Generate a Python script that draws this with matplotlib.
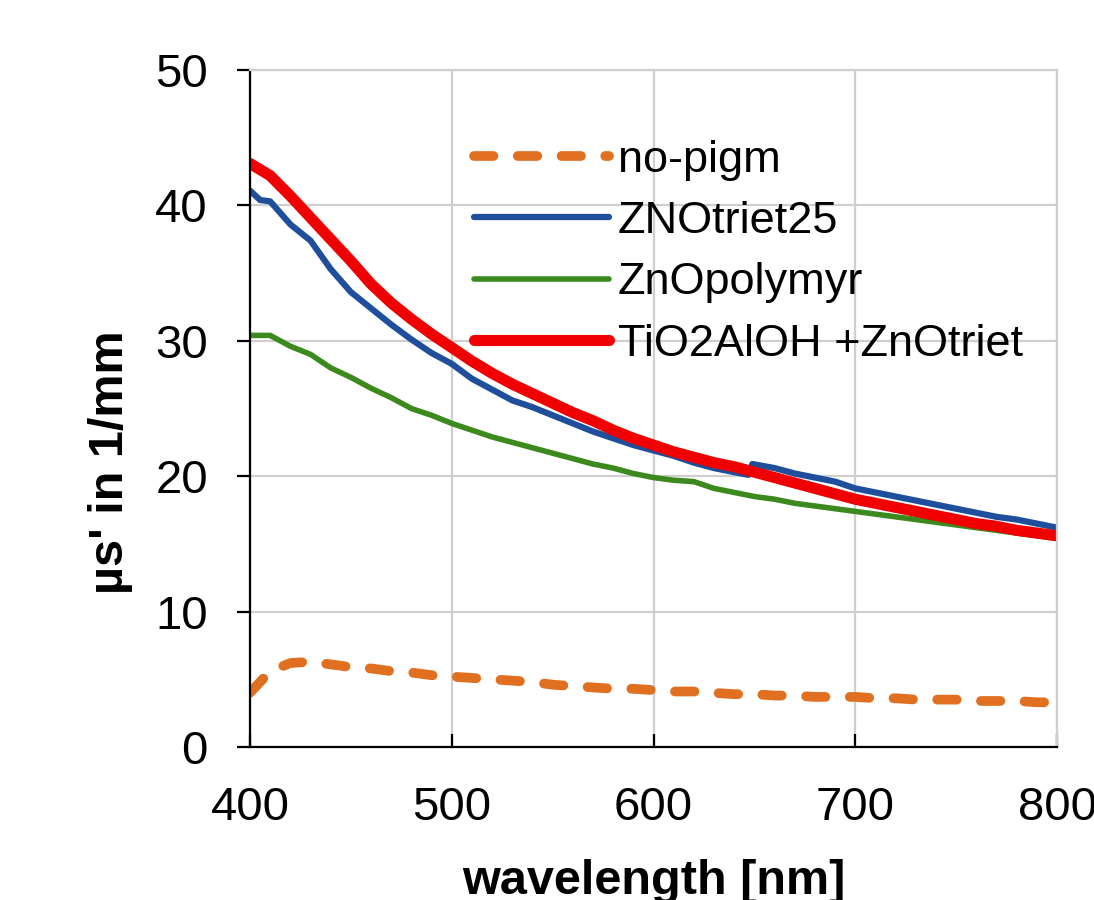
import matplotlib
matplotlib.use('Agg')
import matplotlib.pyplot as plt

plt.rcParams['font.family'] = ['Liberation Sans', 'DejaVu Sans']

# wavelengths in nm
wl = list(range(400, 801, 10))

no_pigm = [4.0, 5.6, 6.2, 6.3, 6.1, 5.9, 5.8, 5.6, 5.5, 5.3,
           5.2, 5.1, 5.0, 4.9, 4.8, 4.6, 4.5, 4.4, 4.3, 4.3,
           4.2, 4.1, 4.1, 4.0, 3.9, 3.9, 3.8, 3.8, 3.7, 3.7,
           3.7, 3.6, 3.6, 3.5, 3.5, 3.5, 3.4, 3.4, 3.4, 3.3, 3.3]

# ZNOtriet25 has a small jump near 648 nm
wl_zno = [400, 405, 410, 420, 430, 440, 450, 460, 470, 480, 490,
          500, 510, 520, 530, 540, 550, 560, 570, 580, 590,
          600, 610, 620, 630, 640, 647, 649, 660, 670, 680, 690,
          700, 710, 720, 730, 740, 750, 760, 770, 780, 790, 800]
zno_triet = [41.1, 40.4, 40.3, 38.6, 37.4, 35.3, 33.6, 32.4, 31.2, 30.1, 29.1,
             28.3, 27.2, 26.4, 25.6, 25.1, 24.5, 23.9, 23.3, 22.8, 22.3,
             21.9, 21.5, 21.0, 20.6, 20.3, 20.1, 20.9, 20.6, 20.2, 19.9, 19.6,
             19.1, 18.8, 18.5, 18.2, 17.9, 17.6, 17.3, 17.0, 16.8, 16.5, 16.2]

zno_poly = [30.4, 30.4, 29.6, 29.0, 28.0, 27.3, 26.5, 25.8, 25.0, 24.5,
            23.9, 23.4, 22.9, 22.5, 22.1, 21.7, 21.3, 20.9, 20.6, 20.2,
            19.9, 19.7, 19.6, 19.1, 18.8, 18.5, 18.3, 18.0, 17.8, 17.6,
            17.4, 17.2, 17.0, 16.8, 16.6, 16.4, 16.2, 16.0, 15.8, 15.6, 15.4]

tio2 = [43.1, 42.2, 40.7, 39.1, 37.5, 35.9, 34.2, 32.8, 31.6, 30.5,
        29.5, 28.5, 27.6, 26.8, 26.1, 25.4, 24.7, 24.1, 23.4, 22.8,
        22.3, 21.8, 21.4, 21.0, 20.7, 20.3, 19.9, 19.5, 19.1, 18.7,
        18.3, 18.0, 17.7, 17.4, 17.1, 16.8, 16.5, 16.3, 16.0, 15.8, 15.6]

fig = plt.figure(figsize=(10.94, 9.0), dpi=100)
ax = fig.add_axes([0.2285, 0.170, 0.7377, 0.7522])

ax.plot(wl, no_pigm, color='#E07020', lw=7, dashes=(2.0, 2.5),
        dash_capstyle='round', solid_capstyle='round', label='no-pigm')
ax.plot(wl_zno, zno_triet, color='#1F4E9C', lw=4.5,
        solid_capstyle='round', label='ZNOtriet25')
ax.plot(wl, zno_poly, color='#3C8A1E', lw=4,
        solid_capstyle='round', label='ZnOpolymyr')
ax.plot(wl, tio2, color='#F00000', lw=8,
        solid_capstyle='round', label='TiO2AlOH +ZnOtriet')

ax.set_xlim(400, 800)
ax.set_ylim(0, 50)
ax.set_xticks([400, 500, 600, 700, 800])
ax.set_yticks([0, 10, 20, 30, 40, 50])
ax.grid(True, color='#cfcfcf', lw=1.6)
ax.set_axisbelow(True)

for s in ['top', 'right']:
    ax.spines[s].set_color('#cfcfcf')
    ax.spines[s].set_linewidth(1.6)
for s in ['left', 'bottom']:
    ax.spines[s].set_color('black')
    ax.spines[s].set_linewidth(1.6)

ax.tick_params(axis='y', direction='out', length=9.4, width=1.6,
               labelsize=34, pad=21)
ax.tick_params(axis='x', direction='in', length=9.4, width=1.6,
               labelsize=34, pad=28)

ax.set_xlabel('wavelength [nm]', fontsize=35, fontweight='bold', labelpad=21)
ax.set_ylabel("µs' in 1/mm", fontsize=35, fontweight='bold')
ax.yaxis.set_label_coords(-0.145, 0.42)

leg = ax.legend(loc='upper left', bbox_to_anchor=(0.277, 0.897), frameon=False,
                fontsize=32.5, handlelength=3.0, handletextpad=0.2,
                labelspacing=0.45, borderpad=0, borderaxespad=0)

fig.savefig('out.png', dpi=100)
